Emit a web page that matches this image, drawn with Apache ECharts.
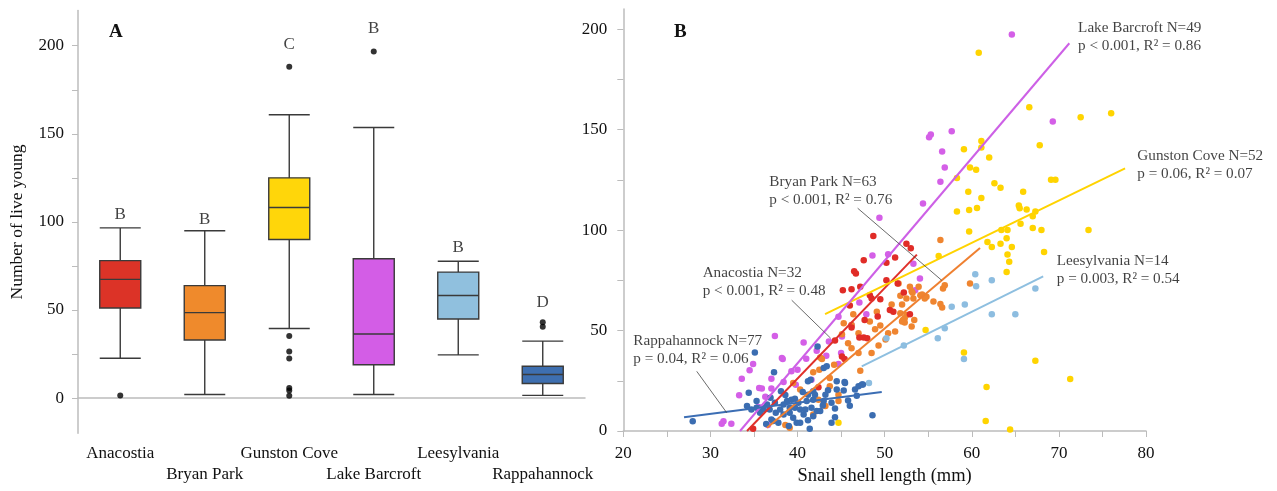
<!DOCTYPE html>
<html>
<head>
<meta charset="utf-8">
<script src="https://cdn.jsdelivr.net/npm/echarts@6/dist/echarts.min.js"></script>
<style>
  html, body { margin: 0; padding: 0; background: #fff; }
  #chart { width: 1277px; height: 491px; }
</style>
</head>
<body>
<div id="chart"></div>
<script>
// ---- panel A: boxplot ----
const sites = ['Anacostia', 'Bryan Park', 'Gunston Cove', 'Lake Barcroft', 'Leesylvania', 'Rappahannock']
// [min, Q1, median, Q3, max]
const boxStats = [
  [22.6, 51.1, 67.4, 78.0, 96.6],
  [2.0, 33.0, 48.5, 63.8, 95.0],
  [39.5, 90.0, 108.2, 125.0, 160.8],
  [2.0, 18.9, 36.4, 79.1, 153.6],
  [24.5, 44.9, 58.2, 71.5, 77.7],
  [1.5, 8.3, 13.4, 18.1, 32.3]
]
const boxOutliers = [
  [0, 1.5], [2, 188], [2, 35.3], [2, 26.4], [2, 22.5], [2, 5.7], [2, 4.3], [2, 1.3],
  [3, 196.7], [5, 43], [5, 40.5]
]
const groupLetters = ['B', 'B', 'C', 'B', 'B', 'D']
const letterY = [104, 101.5, 200.5, 209.5, 85.5, 54.4]
const boxColors = ['#dc3327', '#ef8a2c', '#ffd60a', '#d35de6', '#90c0de', '#3e6fb0']
const yTicksA = [0, 25, 50, 75, 100, 125, 150, 175, 200]
const yLabelsA = [0, 50, 100, 150, 200]

// ---- panel B: scatter + fits ----
const anacostiaPts = [
  [48.7, 97.0], [52.5, 93.2], [51.2, 86.3], [50.2, 83.8], [47.6, 85.0], [46.5, 79.5], [46.7, 78.4],
  [45.2, 70.1], [46.2, 70.6], [47.2, 71.8], [48.3, 67.6], [48.5, 66.0], [49.5, 65.6], [50.6, 60.2],
  [51.0, 59.4], [50.2, 75.0], [51.5, 73.4], [52.2, 69.0], [46.2, 51.5], [47.6, 46.5], [48.0, 46.2],
  [45.1, 37.1], [45.4, 35.9], [47.7, 55.2], [47.1, 46.5], [52.9, 58.1], [34.9, 1.1], [42.4, 21.8],
  [53.0, 91.0], [44.3, 45.0], [49.2, 57.0], [46.0, 62.5]
]
const bryanPts = [
  [56.4, 95.1], [56.7, 70.9], [56.4, 63.2], [54.3, 68.0], [54.8, 66.8], [52.9, 71.8], [53.1, 69.6],
  [51.6, 73.4], [51.8, 67.3], [52.3, 56.1], [52.1, 55.3], [52.5, 57.7], [52.0, 54.5], [53.4, 55.3],
  [51.2, 49.5], [49.1, 59.4], [48.3, 54.5], [49.5, 52.5], [50.4, 48.7], [49.3, 42.6], [48.5, 38.8],
  [47.0, 48.7], [45.8, 43.7], [46.2, 41.2], [47.0, 38.8], [47.2, 30.0], [45.1, 48.2], [42.6, 36.6],
  [42.5, 30.5], [43.7, 26.4], [44.7, 18.1], [44.7, 14.9], [43.7, 22.3], [39.1, 1.6], [59.8, 73.4],
  [56.9, 72.5], [56.6, 61.5], [52.5, 66.0], [52.0, 63.0], [53.3, 66.0], [53.2, 68.8], [53.9, 71.8],
  [54.1, 67.6], [54.6, 66.0], [51.8, 58.6], [52.3, 54.0], [53.1, 52.0], [41.8, 8.2], [42.4, 15.6],
  [40.3, 20.6], [39.5, 23.9], [41.8, 29.2], [42.8, 35.9], [45.3, 53.6], [46.2, 52.8], [46.4, 58.1],
  [50.1, 45.5], [44.2, 33.0], [48.9, 50.6], [55.6, 64.5], [38.6, 3.0], [43.2, 12.4], [50.8, 63.0]
]
const gunstonPts = [
  [60.8, 188.3], [66.6, 161.2], [72.5, 156.2], [76.0, 158.1], [67.8, 142.2], [59.1, 140.2], [61.1, 144.4],
  [61.1, 141.1], [62.0, 136.1], [59.8, 131.2], [60.5, 130.0], [58.3, 125.9], [62.6, 123.3], [63.3, 121.1],
  [59.6, 119.1], [61.1, 116.0], [65.9, 119.1], [69.1, 125.0], [69.6, 125.0], [58.3, 109.2], [59.7, 110.0],
  [60.6, 111.0], [65.4, 112.2], [65.5, 110.9], [66.3, 110.2], [67.3, 109.2], [67.0, 106.9], [63.4, 100.1],
  [64.1, 100.1], [59.7, 99.3], [65.6, 103.1], [67.0, 101.1], [68.0, 100.1], [73.4, 100.1], [64.0, 96.0],
  [61.8, 94.1], [63.3, 93.2], [62.3, 91.6], [64.6, 91.6], [64.1, 87.8], [64.3, 84.2], [64.0, 79.2],
  [68.3, 89.1], [56.2, 87.1], [54.7, 50.3], [59.1, 39.1], [67.3, 35.0], [71.3, 25.9], [61.7, 21.9],
  [61.6, 5.0], [64.4, 0.8], [44.7, 4.1]
]
const barcroftPts = [
  [64.6, 197.3], [69.3, 154.1], [55.1, 146.2], [55.3, 147.6], [57.7, 149.2], [56.6, 139.1], [56.9, 131.2],
  [56.4, 124.1], [54.4, 113.2], [49.4, 106.1], [48.6, 87.4], [54.05, 75.9], [53.5, 70.1], [53.3, 83.3],
  [47.9, 58.1], [44.7, 56.9], [40.7, 44.1], [38.2, 36.3], [39.3, 29.7], [41.6, 25.5], [44.7, 33.3],
  [38.4, 24.4], [37.4, 47.3], [34.9, 33.3], [38.3, 35.9], [33.6, 26.0], [35.9, 21.1], [33.3, 17.8],
  [37.0, 21.1], [31.5, 4.9], [31.3, 3.6], [32.4, 3.6], [45.1, 47.0], [45.0, 38.8], [34.5, 30.2],
  [35.6, 21.4], [36.3, 17.0], [40.0, 30.5], [42.2, 40.0], [46.2, 52.8], [43.3, 37.5], [39.8, 23.0],
  [35.5, 12.0], [37.0, 26.0], [41.0, 36.0], [43.6, 44.5], [50.4, 88.0], [36.6, 3.0], [47.1, 64.0]
]
const leesylvaniaPts = [
  [60.4, 78.0], [60.5, 72.1], [62.3, 75.0], [67.3, 70.9], [59.2, 63.0], [57.7, 61.9], [62.3, 58.1],
  [65.0, 58.1], [56.9, 51.1], [56.1, 46.2], [59.1, 35.9], [52.2, 42.6], [50.2, 46.2], [48.2, 23.9]
]
const rappahannockPts = [
  [27.97, 4.9], [35.1, 39.1], [34.4, 19.0], [37.3, 29.3], [38.1, 19.8], [42.3, 42.1], [43.0, 31.3],
  [43.35, 32.2], [41.5, 25.5], [43.5, 20.3], [45.4, 24.4], [45.3, 20.1], [47.5, 23.1], [46.6, 20.6],
  [45.8, 15.2], [46.8, 17.6], [48.6, 7.9], [44.3, 6.9], [41.4, 1.1], [41.2, 5.4], [40.7, 8.2],
  [41.8, 7.4], [39.5, 6.6], [39.9, 4.1], [39.1, 9.1], [37.8, 4.1], [37.2, 5.0], [38.4, 13.2],
  [38.8, 14.9], [39.3, 15.6], [39.7, 16.1], [40.1, 14.0], [39.7, 11.6], [40.3, 10.7], [39.1, 11.6],
  [36.5, 13.2], [36.1, 10.7], [35.7, 9.1], [35.9, 11.6], [36.8, 10.7], [37.4, 14.0], [37.5, 9.1],
  [38.0, 10.7], [41.05, 14.9], [41.8, 15.6], [41.2, 18.1], [41.6, 11.6], [40.9, 10.7], [42.2, 9.9],
  [42.6, 9.9], [41.8, 19.8], [42.0, 18.1], [43.2, 18.1], [43.0, 14.9], [34.2, 12.4], [34.7, 10.7],
  [35.3, 11.6], [35.3, 14.9], [41.2, 24.8], [37.0, 5.7], [38.4, 8.2], [40.3, 4.1], [44.5, 24.8],
  [45.45, 23.9], [47.0, 22.3], [47.4, 23.1], [43.9, 4.1], [44.5, 20.6], [43.9, 14.0], [36.9, 16.5],
  [38.6, 17.9], [40.6, 19.4], [44.3, 11.2], [42.9, 12.7], [39.0, 2.5], [36.4, 3.5], [46.0, 12.6]
]
const pointSets = [anacostiaPts, bryanPts, gunstonPts, barcroftPts, leesylvaniaPts, rappahannockPts]
const pointColors = ['#e02c27', '#ef8530', '#ffd400', '#d45fe7', '#8dbde0', '#3b6db1']
const lineColors = ['#e0302a', '#ef8030', '#ffd300', '#cd60e6', '#8ebfe0', '#3c6eb4']
// regression line end points [[x0, y0], [x1, y1]]
const fitLines = [
  [[34.2, 0], [53.7, 87.8]],
  [[36.5, 1.6], [60.95, 91.1]],
  [[43.16, 58.2], [77.6, 130.7]],
  [[33.4, 0], [71.2, 193]],
  [[47.37, 32.2], [68.2, 77]],
  [[26.97, 6.9], [49.67, 19.4]]
]
// annotation text: anchor (left, vertical middle) in data units
const notes = [
  ['Anacostia N=32', 'p < 0.001, R² = 0.48'],
  ['Bryan Park N=63', 'p < 0.001, R² = 0.76'],
  ['Gunston Cove N=52', 'p = 0.06, R² = 0.07'],
  ['Lake Barcroft N=49', 'p < 0.001, R² = 0.86'],
  ['Leesylvania N=14', 'p = 0.003, R² = 0.54'],
  ['Rappahannock N=77', 'p = 0.04, R² = 0.06']
]
const notePos = [[29.1, 74.2], [36.76, 119.4], [79.0, 132.3], [72.2, 196.2], [69.75, 80.2], [21.15, 40.4]]
const leaders = [
  [[39.33, 65.1], [43.8, 46.2]],
  [[46.9, 110.9], [56.55, 75.0]],
  [[28.43, 29.7], [31.87, 9.1]]
]
const xTicksB = [20, 25, 30, 35, 40, 45, 50, 55, 60, 65, 70, 75, 80]
const xLabelsB = [20, 30, 40, 50, 60, 70, 80]
const yTicksB = [0, 25, 50, 75, 100, 125, 150, 175, 200]
const yLabelsB = [0, 50, 100, 150, 200]

const serif = "'Liberation Serif', 'Times New Roman', serif"
const axisGrey = '#bcbcbc'

const chart = echarts.init(document.getElementById('chart'), null, { renderer: 'canvas' })

const option = {
  animation: false,
  backgroundColor: '#fff',
  textStyle: { fontFamily: serif },
  grid: [
    { left: 78, top: 10.5, width: 507, height: 422.8 },
    { left: 623.3, top: 9.1, width: 522.7, height: 424.2 }
  ],
  xAxis: [
    {
      type: 'category',
      gridIndex: 0,
      data: sites,
      axisLine: { lineStyle: { color: axisGrey, width: 1.5 } },
      axisTick: { show: false },
      axisLabel: {
        interval: 0,
        margin: 10,
        color: '#111',
        fontFamily: serif,
        fontSize: 17,
        lineHeight: 21,
        formatter: (v, i) => (i % 2 ? '\n' + v : v)
      },
      splitLine: { show: false }
    },
    {
      type: 'value',
      gridIndex: 1,
      min: 20,
      max: 80,
      interval: 10,
      name: 'Snail shell length (mm)',
      nameLocation: 'middle',
      nameGap: 36,
      nameTextStyle: { color: '#111', fontFamily: serif, fontSize: 18.5 },
      axisLine: { lineStyle: { color: axisGrey, width: 1.5 } },
      axisTick: { show: true, length: 6, customValues: xTicksB, lineStyle: { color: axisGrey } },
      axisLabel: { customValues: xLabelsB, margin: 14, color: '#111', fontFamily: serif, fontSize: 17 },
      splitLine: { show: false }
    }
  ],
  yAxis: [
    {
      type: 'value',
      gridIndex: 0,
      min: -20,
      max: 220,
      name: 'Number of live young',
      nameLocation: 'middle',
      nameGap: 52,
      nameRotate: 90,
      nameTextStyle: { color: '#111', fontFamily: serif, fontSize: 17.5 },
      axisLine: { show: true, lineStyle: { color: axisGrey, width: 1.5 } },
      axisTick: { show: true, length: 6, customValues: yTicksA, lineStyle: { color: axisGrey } },
      axisLabel: { customValues: yLabelsA, margin: 14, color: '#111', fontFamily: serif, fontSize: 17 },
      splitLine: { show: false }
    },
    {
      type: 'value',
      gridIndex: 1,
      min: 0,
      max: 210,
      axisLine: { show: true, lineStyle: { color: axisGrey, width: 1.5 } },
      axisTick: { show: true, length: 6, customValues: yTicksB, lineStyle: { color: axisGrey } },
      axisLabel: { customValues: yLabelsB, margin: 16, color: '#111', fontFamily: serif, fontSize: 17 },
      splitLine: { show: false }
    }
  ],
  graphic: [
    { type: 'text', left: 109, top: 23, style: { text: 'A', font: "bold 19px 'Liberation Serif', serif", fill: '#111' } },
    { type: 'text', left: 674, top: 23, style: { text: 'B', font: "bold 19px 'Liberation Serif', serif", fill: '#111' } }
  ],
  series: [
    {
      type: 'boxplot',
      xAxisIndex: 0,
      yAxisIndex: 0,
      boxWidth: [41, 41],
      itemStyle: { borderColor: '#3a3a3a', borderWidth: 1.4 },
      data: boxStats.map((s, i) => ({ value: s, itemStyle: { color: boxColors[i] } }))
    },
    {
      type: 'scatter',
      xAxisIndex: 0,
      yAxisIndex: 0,
      symbolSize: 6,
      itemStyle: { color: '#000' },
      data: boxOutliers
    },
    {
      type: 'scatter',
      xAxisIndex: 0,
      yAxisIndex: 0,
      symbolSize: 0.1,
      itemStyle: { color: 'transparent' },
      label: {
        show: true,
        position: 'inside',
        formatter: p => p.data[2],
        color: '#111',
        fontFamily: serif,
        fontSize: 17
      },
      data: groupLetters.map((l, i) => [i, letterY[i], l])
    },
    // scatter points, yellow & magenta first so the dense groups sit on top
    ...[2, 3, 1, 0, 4, 5].map(i => ({
      type: 'scatter',
      xAxisIndex: 1,
      yAxisIndex: 1,
      symbolSize: 6.5,
      itemStyle: { color: pointColors[i], opacity: 1 },
      data: pointSets[i],
      z: 2
    })),
    ...fitLines.map((l, i) => ({
      type: 'line',
      xAxisIndex: 1,
      yAxisIndex: 1,
      symbol: 'none',
      lineStyle: { color: lineColors[i], width: 2 },
      data: l,
      z: 3
    })),
    ...leaders.map(l => ({
      type: 'line',
      xAxisIndex: 1,
      yAxisIndex: 1,
      symbol: 'none',
      lineStyle: { color: '#444', width: 0.8 },
      data: l,
      z: 4
    })),
    {
      type: 'scatter',
      xAxisIndex: 1,
      yAxisIndex: 1,
      symbolSize: 0.1,
      itemStyle: { color: 'transparent' },
      label: {
        show: true,
        position: 'right',
        distance: 0,
        formatter: p => p.data[2],
        color: '#111',
        fontFamily: serif,
        fontSize: 15.2,
        lineHeight: 18
      },
      data: notes.map((n, i) => [notePos[i][0], notePos[i][1], n.join('\n')]),
      z: 5
    }
  ]
}

chart.setOption(option)
</script>
</body>
</html>
